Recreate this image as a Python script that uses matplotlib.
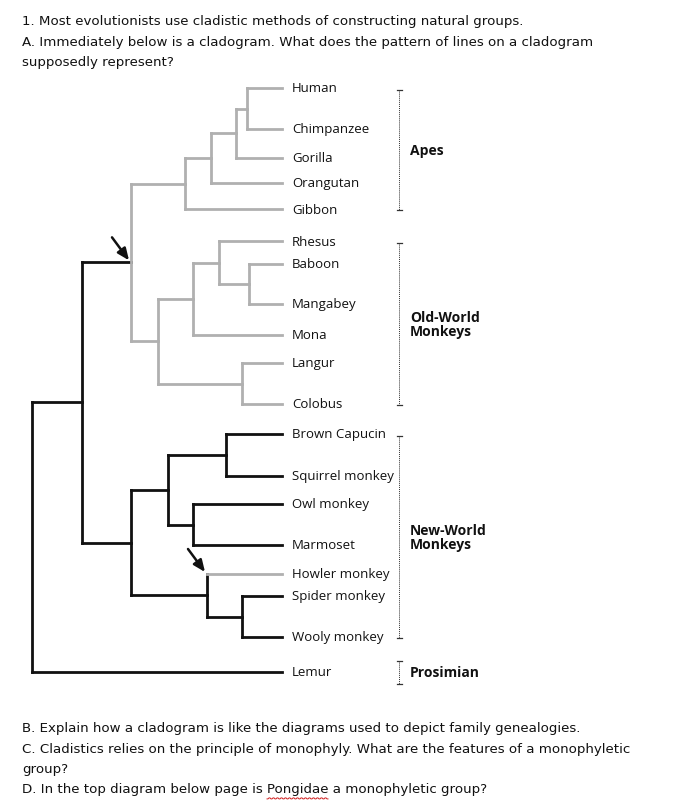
import matplotlib
matplotlib.use("Agg")
import matplotlib.pyplot as plt
import numpy as np

# ---------------- data ----------------
tips = ["Human", "Chimpanzee", "Gorilla", "Orangutan", "Gibbon",
        "Rhesus", "Baboon", "Mangabey", "Mona", "Langur", "Colobus",
        "Brown Capucin", "Squirrel monkey", "Owl monkey", "Marmoset",
        "Howler monkey", "Spider monkey", "Wooly monkey", "Lemur"]
tip_y = [89, 130, 159, 184, 210, 242, 265, 305, 336, 364, 405,
         435, 477, 505, 546, 575, 597, 638, 673]
tip_x = 282

node_names = ["HC", "HCG", "HCGO", "Apes", "BM", "RBM", "Cerco", "Colob", "OWM",
              "Catarr", "CS", "OM", "CSOM", "SW", "HSW", "NWM", "Anthro", "Root"]
node_x = [247, 236, 211, 185, 249, 219, 193, 242, 158,
          131, 226, 193, 168, 242, 207, 131, 82, 32]
node_children = [["Human", "Chimpanzee"], ["HC", "Gorilla"], ["HCG", "Orangutan"],
                 ["HCGO", "Gibbon"], ["Baboon", "Mangabey"], ["Rhesus", "BM"],
                 ["RBM", "Mona"], ["Langur", "Colobus"], ["Cerco", "Colob"],
                 ["Apes", "OWM"], ["Brown Capucin", "Squirrel monkey"],
                 ["Owl monkey", "Marmoset"], ["CS", "OM"],
                 ["Spider monkey", "Wooly monkey"], ["Howler monkey", "SW"],
                 ["CSOM", "HSW"], ["Catarr", "NWM"], ["Anthro", "Lemur"]]
# lineages drawn in grey (the rest are black)
grey_nodes = ["HC", "HCG", "HCGO", "Apes", "BM", "RBM", "Cerco", "Colob", "OWM", "Catarr"]
grey_tips = ["Human", "Chimpanzee", "Gorilla", "Orangutan", "Gibbon",
             "Rhesus", "Baboon", "Mangabey", "Mona", "Langur", "Colobus",
             "Howler monkey"]
grey_stems = grey_nodes[:-1] + grey_tips  # horizontal incoming branches

groups = ["Apes", "Old-World\nMonkeys", "New-World\nMonkeys", "Prosimian"]
group_span = [("Human", "Gibbon"), ("Rhesus", "Colobus"),
              ("Brown Capucin", "Wooly monkey"), ("Lemur", "Lemur")]
arrow_targets = ["Catarr", "HSW"]

header = ["1. Most evolutionists use cladistic methods of constructing natural groups.",
          "A. Immediately below is a cladogram. What does the pattern of lines on a cladogram",
          "supposedly represent?"]
footer = ["B. Explain how a cladogram is like the diagrams used to depict family genealogies.",
          "C. Cladistics relies on the principle of monophyly. What are the features of a monophyletic",
          "group?",
          "D. In the top diagram below page is Pongidae a monophyletic group?"]

# ---------------- layout ----------------
W, H = 683, 804
fig = plt.figure(figsize=(W / 100, H / 100), dpi=100)
ax = fig.add_axes([0, 0, 1, 1])
ax.set_xlim(0, W)
ax.set_ylim(H, 0)
ax.axis("off")

hand = ["DejaVu Sans"]
lab_font = ["Open Sans", "DejaVu Sans"]

BLACK = "#111111"
GREY = "#b0b0b0"
LW = 2.0

pos_y = dict(zip(tips, tip_y))
pos_x = {t: tip_x for t in tips}
for n, x, ch in zip(node_names, node_x, node_children):
    ys = [pos_y[c] for c in ch]
    pos_y[n] = (min(ys) + max(ys)) / 2
    pos_x[n] = x

segments = []
for n, x, ch in zip(node_names, node_x, node_children):
    ys = [pos_y[c] for c in ch]
    col = GREY if n in grey_nodes else BLACK
    segments.append(((x, x), (min(ys), max(ys)), col))
    for c in ch:
        ccol = GREY if c in grey_stems else BLACK
        segments.append(((x, tip_x if c in tips else pos_x[c]), (pos_y[c], pos_y[c]), ccol))
for xs, ys, col in sorted(segments, key=lambda s: s[2] == GREY):
    ax.plot(xs, ys, color=col, lw=LW, solid_capstyle="projecting")

for t, y in zip(tips, tip_y):
    ax.text(292, y, t, fontsize=9.5, family=lab_font, va="center", ha="left", color="#111111")

# group brackets
for g, (a, b) in zip(groups, group_span):
    y0, y1 = pos_y[a], pos_y[b]
    if a == b:
        y0, y1 = y0 - 11, y1 + 12
    else:
        y0, y1 = y0 + 2, y1 + 1
    ax.plot([399, 399], [y0, y1], color="#333333", lw=0.7, ls=(0, (1, 1)))
    for yy in (y0, y1):
        ax.plot([396.5, 401.5], [yy, yy], color="#333333", lw=0.9)
    ax.text(410, (y0 + y1) / 2, g, fontsize=10, family=lab_font, weight="bold",
            va="center", ha="left", color="#111111", linespacing=1.0)

# arrows pointing at nodes
for n in arrow_targets:
    x, y = pos_x[n], pos_y[n]
    if n == "HSW":
        y = pos_y["Howler monkey"]
    ax.annotate("", xy=(x - 2, y - 2), xytext=(x - 19, y - 25),
                arrowprops=dict(arrowstyle="-|>,head_length=0.7,head_width=0.3",
                                color=BLACK, lw=1.8, shrinkA=0, shrinkB=0))

for i, line in enumerate(header):
    ax.text(22, 22 + i * 20.3, line, fontsize=9.6, family=hand, va="center", ha="left", color="#111111")
footer_texts = []
for i, line in enumerate(footer):
    footer_texts.append(ax.text(22, 729 + i * 20.3, line, fontsize=9.6, family=hand,
                                va="center", ha="left", color="#111111"))

# red wavy spell-check underline beneath "Pongidae"
fig.canvas.draw()
r = fig.canvas.get_renderer()
last = footer_texts[-1]
s = last.get_text()
i0 = s.index("Pongidae")
pre = ax.text(0, 0, s[:i0], fontsize=9.6, family=hand)
word = ax.text(0, 0, "Pongidae", fontsize=9.6, family=hand)
w_pre = pre.get_window_extent(r).width
w_word = word.get_window_extent(r).width
pre.remove(); word.remove()
xs = np.arange(22 + w_pre, 22 + w_pre + w_word, 1.0)
ys = 729 + 3 * 20.3 + 9 + 1.0 * ((np.arange(len(xs)) % 4) < 2)
ax.plot(xs, ys, color="#d02020", lw=0.7)

fig.savefig("out.png", dpi=100)
